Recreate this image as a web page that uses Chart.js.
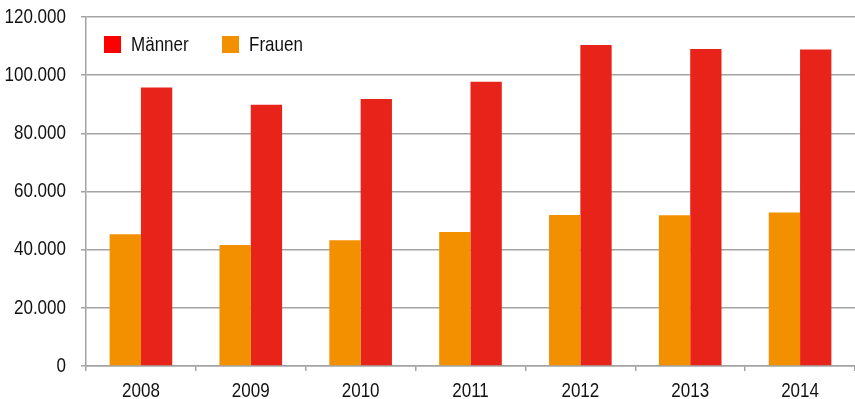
<!DOCTYPE html>
<html>
<head>
<meta charset="utf-8">
<script src="https://cdn.jsdelivr.net/npm/chart.js@4/dist/chart.umd.min.js"></script>
<style>
  html, body { margin: 0; padding: 0; background: #fff; }
  #wrap { width: 855px; height: 399px; }
</style>
</head>
<body>
<div id="wrap"><canvas id="c" width="855" height="399"></canvas></div>
<script>
// Jahre und Werte
const years = ['2008', '2009', '2010', '2011', '2012', '2013', '2014'];
const frauen = [45300, 41600, 43200, 46100, 51900, 51800, 52800];
const maenner = [95800, 89800, 91800, 97700, 110400, 109000, 108800];
const yTicks = [0, 20000, 40000, 60000, 80000, 100000, 120000];

const FONT = '"Liberation Sans", Arimo, Arial, sans-serif';
const FONT_SIZE = 21;
const NARROW = 0.81;   // horizontale Stauchung der Schrift (Condensed-Look)
const TEXT = '#111111';
const GRID = '#a3a3a3';
const RED = '#e8231a';
const ORANGE = '#f39000';

function fmt(v) {
  return String(v).replace(/\B(?=(\d{3})+(?!\d))/g, '.');
}

// Canvas-Kontext: Text schmaler setzen über maxWidth von fillText
const canvas = document.getElementById('c');
const ctx2d = canvas.getContext('2d');
const baseFillText = ctx2d.fillText;
ctx2d.fillText = function (text, x, y, maxWidth) {
  const w = this.measureText(text).width * NARROW;
  const mw = maxWidth !== undefined ? Math.min(maxWidth, w) : w;
  return baseFillText.call(this, text, x, y, mw);
};

// Legende oben links innerhalb der Zeichenfläche
const legendInside = {
  id: 'legendInside',
  afterDraw(chart) {
    const ctx = chart.ctx;
    const items = [
      { label: chart.data.datasets[1].label, color: '#ff0000' },
      { label: chart.data.datasets[0].label, color: ORANGE }
    ];
    const x0 = chart.chartArea.left + 18;
    const y0 = chart.chartArea.top + 19;
    ctx.save();
    ctx.font = FONT_SIZE + 'px ' + FONT;
    ctx.textBaseline = 'middle';
    ctx.textAlign = 'left';
    items.forEach((it, i) => {
      const x = x0 + i * 118;
      ctx.fillStyle = it.color;
      ctx.fillRect(x, y0, 17, 17);
      ctx.fillStyle = TEXT;
      ctx.fillText(it.label, x + 27, y0 + 9);
    });
    ctx.restore();
  }
};

new Chart(canvas, {
  type: 'bar',
  data: {
    labels: years,
    datasets: [
      { label: 'Frauen', data: frauen, backgroundColor: ORANGE, borderWidth: 0 },
      { label: 'Männer', data: maenner, backgroundColor: RED, borderWidth: 0 }
    ]
  },
  options: {
    responsive: false,
    animation: false,
    devicePixelRatio: 1,
    layout: { padding: 0 },
    datasets: { bar: { categoryPercentage: 0.57, barPercentage: 1.0 } },
    plugins: { legend: { display: false }, tooltip: { enabled: false } },
    scales: {
      x: {
        offset: true,
        grid: {
          offset: true,
          drawOnChartArea: false,
          drawTicks: true,
          tickLength: 5,
          color: GRID,
          lineWidth: 1.5
        },
        border: { color: GRID, width: 1.5 },
        ticks: { font: { family: FONT, size: FONT_SIZE }, color: TEXT, padding: 8 },
        afterFit(s) { s.height = 33; }
      },
      y: {
        min: 0,
        max: 120000,
        afterBuildTicks(s) { s.ticks = yTicks.map(v => ({ value: v })); },
        grid: { color: GRID, lineWidth: 1.5, tickLength: 5, drawTicks: true },
        border: { color: GRID, width: 1.5 },
        ticks: {
          font: { family: FONT, size: FONT_SIZE },
          color: TEXT,
          padding: 15,
          callback: v => fmt(v)
        },
        afterFit(s) {
          s.width = 86;
          s.paddingTop = 17;
          s.paddingBottom = 0;
        }
      }
    }
  },
  plugins: [legendInside]
});
</script>
</body>
</html>
